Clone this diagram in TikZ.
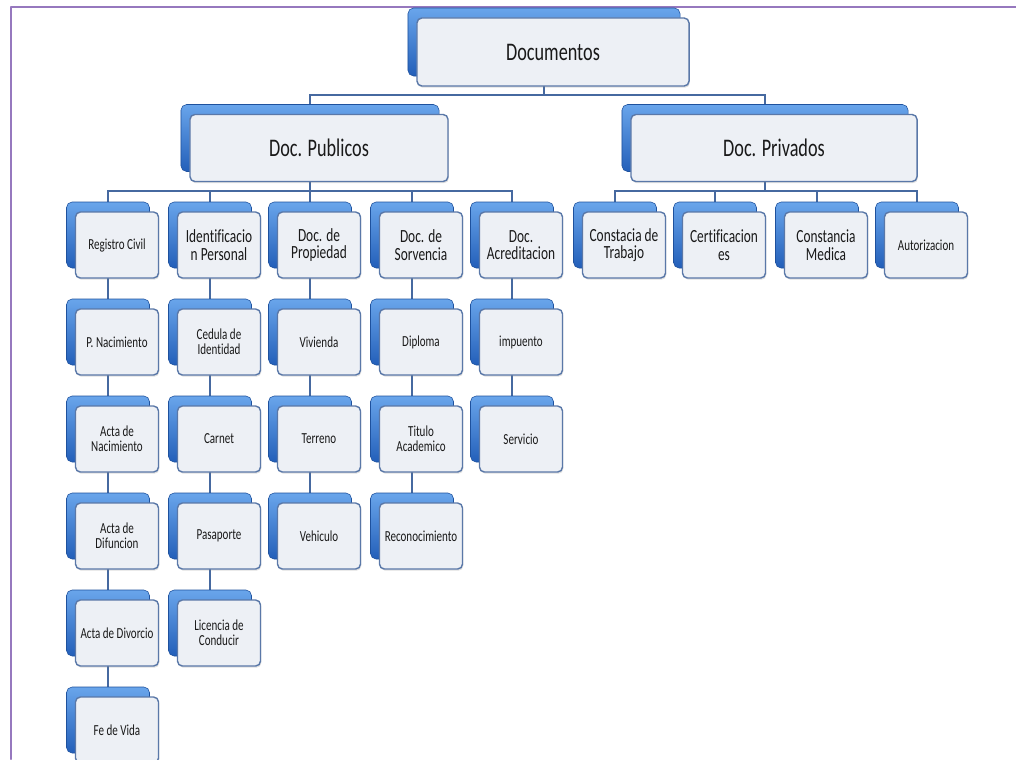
\documentclass[tikz,border=0pt]{standalone}
\usepackage{fontspec}
\setmainfont{Carlito}[FakeStretch=0.72,Ligatures=NoCommon]
\usetikzlibrary{backgrounds,shadows}
\definecolor{marco}{RGB}{150,120,190}
\definecolor{linea}{RGB}{70,105,160}
\definecolor{azulclaro}{RGB}{105,165,235}
\definecolor{azuloscuro}{RGB}{35,95,185}
\definecolor{borde}{RGB}{90,120,168}
\definecolor{relleno}{RGB}{237,240,245}
\definecolor{texto}{RGB}{25,25,25}

% caja azul detras y caja clara delante
\newcommand{\caja}[4][]{%
  \node[atras,#1] (#2-b) at #3 {};
  \node[frente,#1] (#2) at ([shift={(9,10)}]#2-b) {#4};
}

\begin{document}
\begin{tikzpicture}[line cap=round,line join=round,x=0.025cm,y=-0.025cm,
  atras/.style={rectangle,rounded corners=4pt,draw=azuloscuro!85!black,top color=azulclaro,bottom color=azuloscuro,inner sep=0pt},
  frente/.style={rectangle,rounded corners=3.5pt,draw=borde,line width=1pt,fill=relleno,text=texto,align=center,inner sep=0pt,
    drop shadow={shadow xshift=0.6pt,shadow yshift=-1.2pt,opacity=0.25}},
  conector/.style={draw=linea,line width=1.7pt},
  grande/.style={font=\fontsize{18}{20}\selectfont},
  medio/.style={font=\fontsize{13.2}{12.5}\selectfont},
  chico/.style={font=\fontsize{10.9}{10.5}\selectfont},
  n0/.style={minimum width=6.8cm,minimum height=1.7cm,grande},
  n1a/.style={minimum width=6.45cm,minimum height=1.675cm,grande},
  n1b/.style={minimum width=7.15cm,minimum height=1.675cm,grande},
  n2/.style={minimum width=2.075cm,minimum height=1.65cm}]
\useasboundingbox (0,0) rectangle (1016,759);
\clip (0,0) rectangle (1016,759);
\draw[marco,line width=1.4pt] (1016,7) -- (11,7) -- (11,759);

\caja[n0]{doc}{(544,42)}{Documentos}
\caja[n1a]{pub}{(310,138)}{Doc. Publicos}
\caja[n1b]{priv}{(765,138)}{Doc. Privados}

% fila 1
\caja[n2,chico]{rc}{(108,235)}{Registro Civil}
\caja[n2,medio]{ip}{(210,235)}{Identificacio\\n Personal}
\caja[n2,medio]{dp}{(310,235)}{Doc. de\\Propiedad}
\caja[n2,medio]{ds}{(412,235)}{Doc. de\\Sorvencia}
\caja[n2,medio]{da}{(512,235)}{Doc.\\Acreditacion}
\caja[n2,medio]{ct}{(615,235)}{Constacia de\\Trabajo}
\caja[n2,medio]{ce}{(715,235)}{Certificacion\\es}
\caja[n2,medio]{cm}{(817,235)}{Constancia\\Medica}
\caja[n2,chico]{au}{(917,235)}{Autorizacion}
% fila 2
\caja[n2,chico]{pn}{(108,332)}{P. Nacimiento}
\caja[n2,chico]{ci}{(210,332)}{Cedula de\\Identidad}
\caja[n2,chico]{vi}{(310,332)}{Vivienda}
\caja[n2,chico]{di}{(412,332)}{Diploma}
\caja[n2,chico]{im}{(512,332)}{impuento}
% fila 3
\caja[n2,chico]{an}{(108,429)}{Acta de\\Nacimiento}
\caja[n2,chico]{ca}{(210,429)}{Carnet}
\caja[n2,chico]{te}{(310,429)}{Terreno}
\caja[n2,chico]{ta}{(412,429)}{Titulo\\Academico}
\caja[n2,chico]{se}{(512,429)}{Servicio}
% fila 4
\caja[n2,chico]{af}{(108,526)}{Acta de\\Difuncion}
\caja[n2,chico]{pa}{(210,526)}{Pasaporte}
\caja[n2,chico]{ve}{(310,526)}{Vehiculo}
\caja[n2,chico]{re}{(412,526)}{Reconocimiento}
% fila 5 y 6
\caja[n2,chico]{av}{(108,623)}{Acta de Divorcio}
\caja[n2,chico]{lc}{(210,623)}{Licencia de\\Conducir}
\caja[n2,chico]{fv}{(108,720)}{Fe de Vida}

\begin{pgfonlayer}{background}
\coordinate (bus0) at (0,95);
\coordinate (bus1) at (0,191);
\draw[conector] (doc-b.south) -- (doc-b.south |- bus0) -| (pub-b.north);
\draw[conector] (doc-b.south |- bus0) -| (priv-b.north);
\draw[conector] (pub-b.south) -- (pub-b.south |- bus1);
\foreach \h in {rc,ip,dp,ds,da}
  \draw[conector] (pub-b.south |- bus1) -| (\h-b.north);
\draw[conector] (priv-b.south) -- (priv-b.south |- bus1);
\foreach \h in {ct,ce,cm,au}
  \draw[conector] (priv-b.south |- bus1) -| (\h-b.north);
\foreach \a/\b in {rc/pn,pn/an,an/af,af/av,av/fv,ip/ci,ci/ca,ca/pa,pa/lc,
    dp/vi,vi/te,te/ve,ds/di,di/ta,ta/re,da/im,im/se}
  \draw[conector] (\a-b.south) -- (\b-b.north);
\end{pgfonlayer}
\end{tikzpicture}
\end{document}
